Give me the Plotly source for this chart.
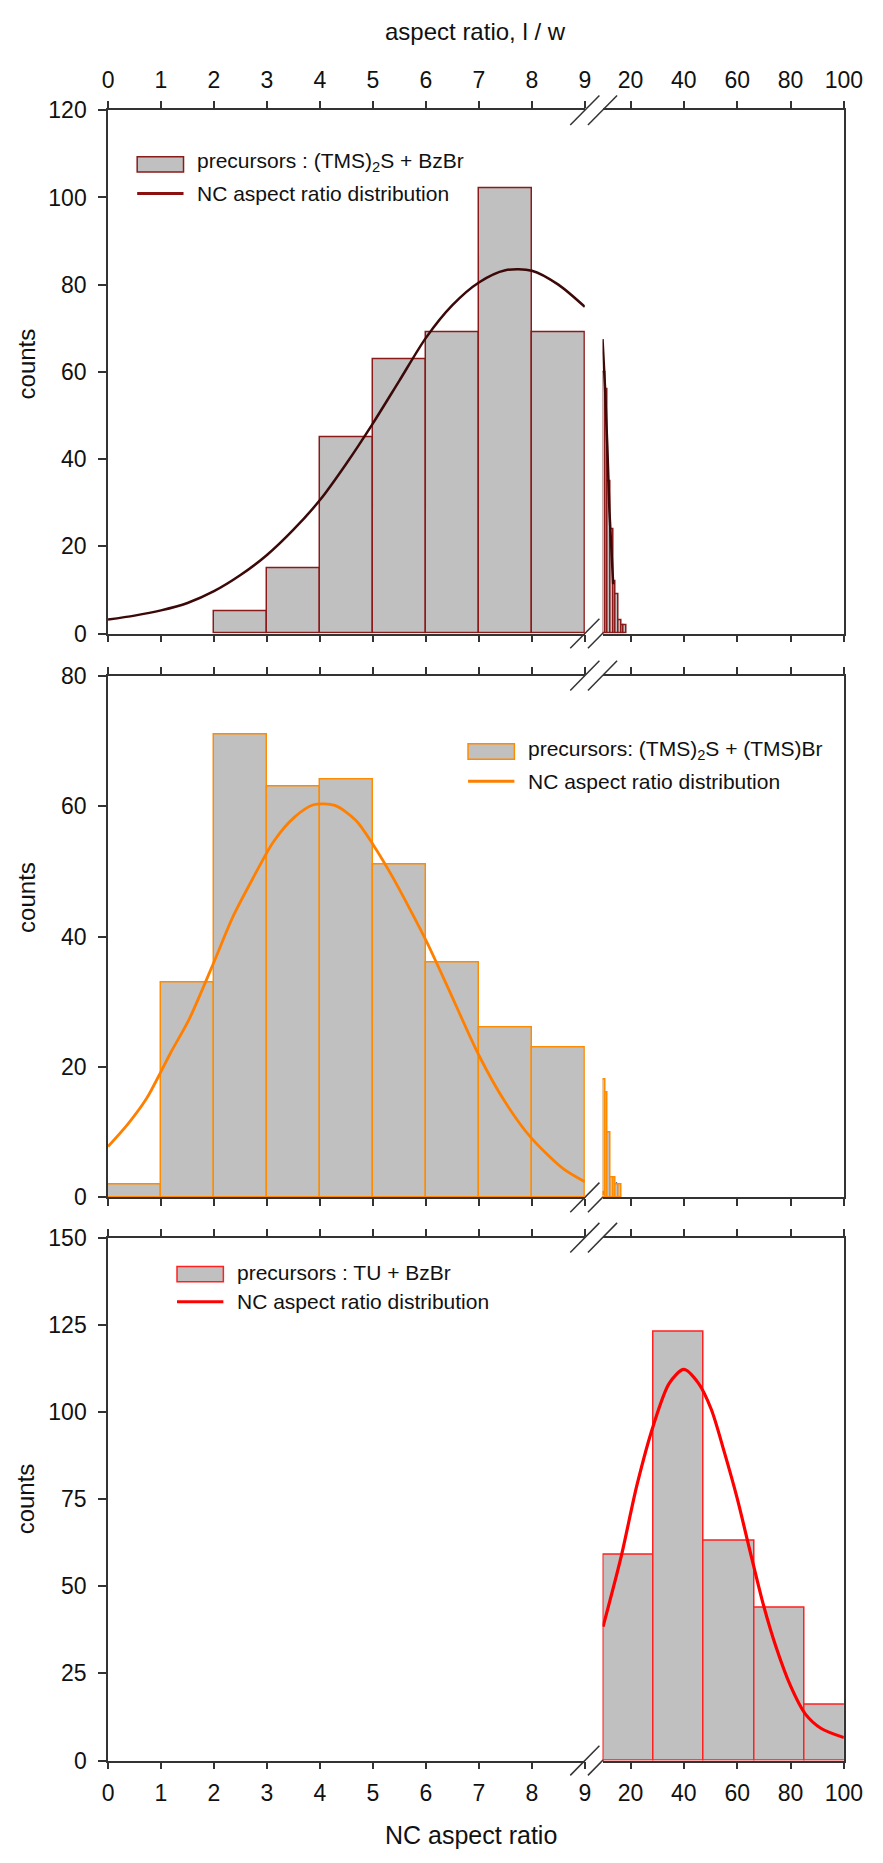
import plotly.graph_objects as go

# ---------------- data ----------------
# Panel A: precursors (TMS)2S + BzBr
a_bin_left = [2, 3, 4, 5, 6, 7, 8]
a_counts = [5, 15, 45, 63, 69, 102, 69]
a_tail_left = [9.5, 10.5, 11.5, 12.5, 13.5, 14.5, 15.5, 16.5, 17.5]
a_tail_counts = [60, 56, 35, 24, 12, 9, 3, 2, 2]
a_fit_x = [0, 0.5, 1, 1.5, 2, 2.5, 3, 3.5, 4, 4.5, 5, 5.5, 6, 6.5, 7, 7.5, 8, 8.5, 9]
a_fit_y = [3.2, 4.1, 5.3, 7.0, 9.7, 13.4, 18.0, 23.8, 30.6, 39, 48.2, 58, 67.8, 75.3, 80.5, 83.3, 83.2, 80, 74.9]
a_fit_tail_x = [9.5, 10.4, 11.3, 12.1, 13.5]
a_fit_tail_y = [67.5, 57, 43, 28, 11.3]

# Panel B: precursors (TMS)2S + (TMS)Br
b_bin_left = [0, 1, 2, 3, 4, 5, 6, 7, 8]
b_counts = [2, 33, 71, 63, 64, 51, 36, 26, 23]
b_tail_left = [9.5, 10.5, 11.5, 12.5, 13.5, 14.5, 15.5]
b_tail_counts = [18, 16, 10, 3, 3, 2, 2]
b_fit_x = [0, 0.37, 0.73, 1.0, 1.19, 1.53, 2.0, 2.35, 2.72, 3.12, 3.52, 3.88, 4.28,
           4.68, 5.01, 5.38, 5.75, 6.02, 6.42, 7.0, 7.49, 7.98, 8.59, 9.0]
b_fit_y = [7.8, 11.2, 15.2, 19.3, 22.3, 27.3, 36.1, 42.9, 48.7, 54.5, 58.3, 60.2, 60.1,
           57.8, 54, 49, 43.4, 39.1, 32.1, 21.8, 14.7, 9.2, 4.4, 2.4]
b_fit_tail_x = [9.5, 9.8]
b_fit_tail_y = [1.0, 0.4]

# Panel C: precursors TU + BzBr
c_bin_left = [9.7, 28.6, 47.5, 66.4, 85.3]
c_bin_width = 18.9
c_counts = [59, 123, 63, 44, 16]
c_fit_x = [9.7, 16.4, 22.4, 28.5, 34.5, 40, 45.5, 50.3, 55.2, 60, 64.8, 69.7, 74.5, 80, 85.5, 91.5, 100]
c_fit_y = [38.4, 58.2, 79, 96, 108.2, 112.2, 108.2, 100.7, 88.4, 75.2, 60.1, 45, 32.7, 21.4, 13.4, 9.2, 6.6]

left_ticks = list(range(0, 10))
right_ticks = [20, 40, 60, 80, 100]
y_ranges = [[0, 120], [0, 80], [0, 150]]
y_dticks = [20, 20, 25]

legend_bar = ["precursors : (TMS)<sub>2</sub>S + BzBr",
              "precursors: (TMS)<sub>2</sub>S + (TMS)Br",
              "precursors : TU + BzBr"]
legend_line = "NC aspect ratio distribution"

# ---------------- styling / geometry ----------------
W, H = 883, 1863
FONT = "Liberation Sans, Arial, sans-serif"
GRAY = "#C0C0C0"
AX = "#333333"
edge_cols = ["#8B1A1A", "#FF8C00", "#FF2020"]
curve_cols = ["#3C0808", "#FF8000", "#FF0000"]
legend_line_cols = ["#8B1010", "#FF8000", "#FF0000"]
curve_w = [2.5, 2.8, 3.2]

xl_px = (105.0, 595.7)
xr_px = (613.9, 862.3)
panels_px = [(98.6, 629.3), (672.0, 1201.2), (1242.0, 1772.3)]


def px(x):
    return x / W


def py(y):
    return 1 - y / H


fig = go.Figure()


def bars(xs, ys, w, ax, col):
    fig.add_trace(go.Bar(
        x=xs, y=ys, width=w, offset=0,
        marker=dict(color=GRAY, line=dict(color=col, width=1.5)),
        xaxis=ax[0], yaxis=ax[1], showlegend=False, hoverinfo="x+y"))


def curve(xs, ys, ax, col, w, shape="spline"):
    fig.add_trace(go.Scatter(
        x=xs, y=ys, mode="lines", line=dict(color=col, width=w, shape=shape, smoothing=0.8),
        xaxis=ax[0], yaxis=ax[1], showlegend=False))


axes_ids = [(("x", "y"), ("x2", "y2")), (("x3", "y3"), ("x4", "y4")), (("x5", "y5"), ("x6", "y6"))]

# Panel A
bars(a_bin_left, a_counts, 1, axes_ids[0][0], edge_cols[0])
bars(a_tail_left, a_tail_counts, 1, axes_ids[0][1], edge_cols[0])
curve(a_fit_x, a_fit_y, axes_ids[0][0], curve_cols[0], curve_w[0])
curve(a_fit_tail_x, a_fit_tail_y, axes_ids[0][1], curve_cols[0], curve_w[0], "linear")
# Panel B
bars(b_bin_left, b_counts, 1, axes_ids[1][0], edge_cols[1])
bars(b_tail_left, b_tail_counts, 1, axes_ids[1][1], edge_cols[1])
curve(b_fit_x, b_fit_y, axes_ids[1][0], curve_cols[1], curve_w[1])
curve(b_fit_tail_x, b_fit_tail_y, axes_ids[1][1], curve_cols[1], curve_w[1], "linear")
# Panel C (left segment holds no data, keep its axes alive)
fig.add_trace(go.Scatter(x=[None], y=[None], mode="lines", xaxis="x5", yaxis="y5",
                         showlegend=False, hoverinfo="skip"))
bars(c_bin_left, c_counts, c_bin_width, axes_ids[2][1], edge_cols[2])
curve(c_fit_x, c_fit_y, axes_ids[2][1], curve_cols[2], curve_w[2])

tickfont = dict(family=FONT, size=23, color="#111111")
layout = dict(width=W, height=H, margin=dict(l=0, r=0, t=0, b=0),
              paper_bgcolor="white", plot_bgcolor="white",
              bargap=0, barmode="overlay", font=dict(family=FONT, color="#111111"))

for i, (top, bot) in enumerate(panels_px):
    n = 2 * i + 1
    xl, xr = f"xaxis{'' if n == 1 else n}", f"xaxis{n + 1}"
    yl, yr = f"yaxis{'' if n == 1 else n}", f"yaxis{n + 1}"
    ydom = [py(bot), py(top)]
    side = "top" if i == 0 else "bottom"
    show_lbl = i != 1
    common_x = dict(showgrid=False, zeroline=False, showline=True, linecolor=AX, linewidth=1.5,
                    ticks="outside", ticklen=7, tickwidth=1.5, tickcolor=AX, mirror="ticks",
                    side=side, showticklabels=show_lbl, tickfont=tickfont,
                    ticklabelstandoff=4)
    layout[xl] = dict(common_x, domain=[px(xl_px[0]), px(xl_px[1])], range=[0, 9],
                      tickvals=left_ticks, anchor=f"y{'' if n == 1 else n}")
    layout[xr] = dict(common_x, domain=[px(xr_px[0]), px(xr_px[1])], range=[9.5, 100],
                      tickvals=right_ticks, anchor=f"y{n + 1}")
    layout[yl] = dict(domain=ydom, range=y_ranges[i], dtick=y_dticks[i], showgrid=False,
                      zeroline=False, showline=True, linecolor=AX, linewidth=1.5,
                      ticks="outside", ticklen=8, tickwidth=1.5, tickcolor=AX,
                      tickfont=tickfont, ticklabelstandoff=7,
                      anchor=f"x{'' if n == 1 else n}")
    layout[yr] = dict(domain=ydom, range=y_ranges[i], showgrid=False, zeroline=False,
                      showline=True, linecolor=AX, linewidth=1.5, ticks="",
                      showticklabels=False, side="right", anchor=f"x{n + 1}")

fig.update_layout(**layout)

# Axis break marks "//"
shapes = []
for top, bot in panels_px:
    for yy in (top, bot):
        for xx in (xl_px[1], xr_px[0]):
            shapes.append(dict(type="line", xref="paper", yref="paper",
                               x0=px(xx - 15), y0=py(yy + 15), x1=px(xx + 15), y1=py(yy - 15),
                               line=dict(color=AX, width=1.5), layer="below"))

# Legends: gray box with coloured border + line sample
legend_pos = [(135, 153.5, 183), (475.5, 749, 779), (176, 1279, 1307)]
annos = []
for i, (lx, ry1, ry2) in enumerate(legend_pos):
    shapes.append(dict(type="rect", xref="paper", yref="paper",
                       x0=px(lx), x1=px(lx + 47.7), y0=py(ry1 + 7.8), y1=py(ry1 - 7.8),
                       fillcolor=GRAY, line=dict(color=edge_cols[i], width=1.5)))
    shapes.append(dict(type="line", xref="paper", yref="paper",
                       x0=px(lx), x1=px(lx + 47.7), y0=py(ry2), y1=py(ry2),
                       line=dict(color=legend_line_cols[i], width=3)))
    annos.append(dict(x=px(lx + 60), y=py(ry1 - 2), xref="paper", yref="paper",
                      text=legend_bar[i], showarrow=False, xanchor="left", yanchor="middle",
                      font=dict(family=FONT, size=21, color="#111111")))
    annos.append(dict(x=px(lx + 60), y=py(ry2), xref="paper", yref="paper",
                      text=legend_line, showarrow=False, xanchor="left", yanchor="middle",
                      font=dict(family=FONT, size=21, color="#111111")))

# Axis titles
title_font = dict(family=FONT, size=24, color="#111111")
annos.append(dict(x=px(483), y=py(19), xref="paper", yref="paper", text="aspect ratio, l / w",
                  showarrow=False, xanchor="center", yanchor="middle", font=title_font))
annos.append(dict(x=px(479), y=py(1848), xref="paper", yref="paper", text="NC aspect ratio",
                  showarrow=False, xanchor="center", yanchor="middle",
                  font=dict(title_font, size=25)))
for cy in (356, 897, 1507):
    annos.append(dict(x=px(21), y=py(cy), xref="paper", yref="paper", text="counts",
                      showarrow=False, textangle=-90, xanchor="center", yanchor="middle",
                      font=title_font))

fig.update_layout(shapes=shapes, annotations=annos)
fig.write_html("out.html")
